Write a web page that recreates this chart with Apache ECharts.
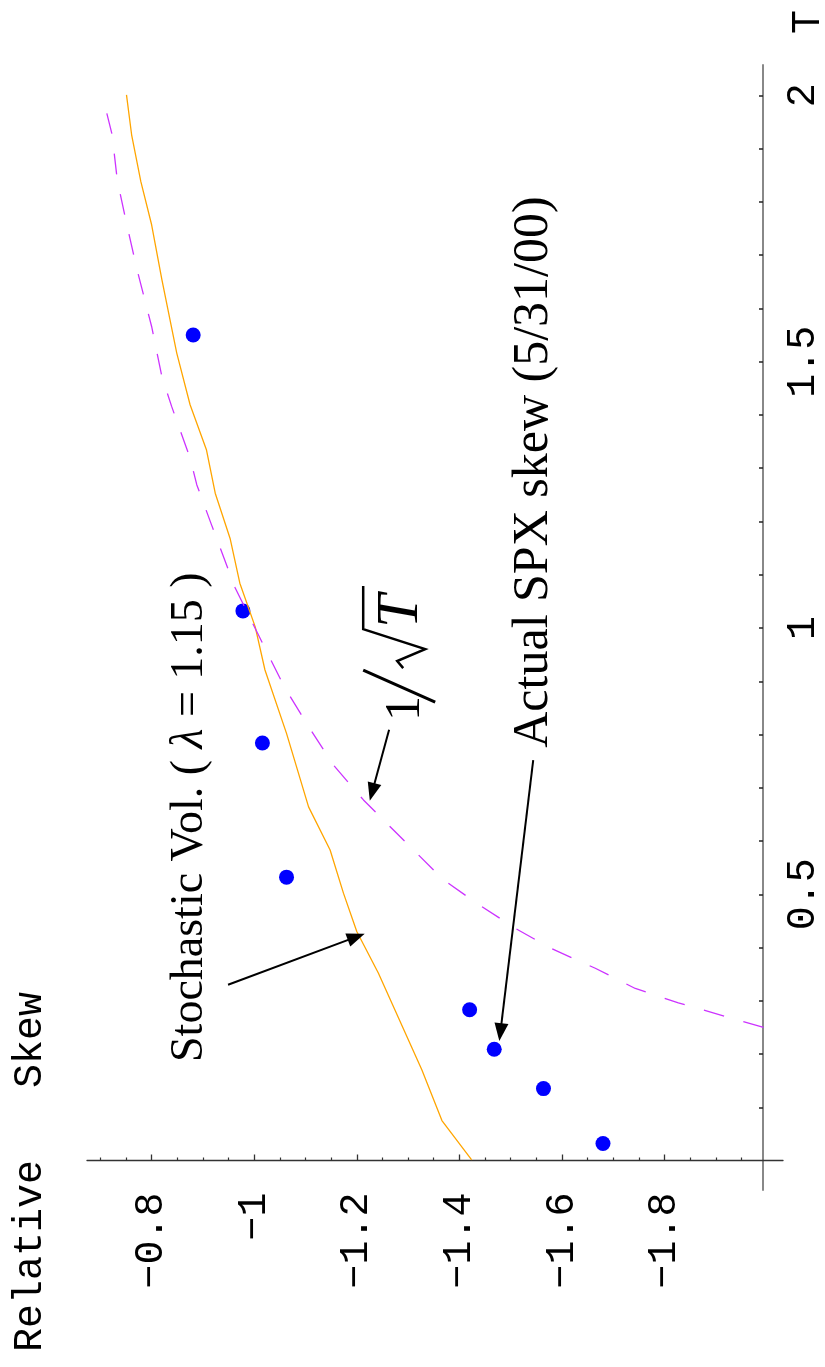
<!DOCTYPE html>
<html>
<head>
<meta charset="utf-8">
<script src="https://cdn.jsdelivr.net/npm/echarts@6/dist/echarts.min.js"></script>
<style>
  html, body { margin: 0; padding: 0; background: #fff; }
  #chart { width: 825px; height: 1367px; }
</style>
</head>
<body>
<div id="chart"></div>
<script>
// actual SPX skew (5/31/00): maturity T and relative skew
var spxT    = [0.032, 0.135, 0.209, 0.283, 0.532, 0.784, 1.032, 1.550];
var spxSkew = [-1.680, -1.564, -1.468, -1.420, -1.063, -1.016, -0.978, -0.881];

// stochastic vol model, lambda = 1.15
var svT    = [0.001, 0.075, 0.170, 0.352, 0.430, 0.502, 0.583, 0.664, 0.802, 0.921, 1.002,
              1.084, 1.168, 1.253, 1.334, 1.419, 1.516, 1.654, 1.757, 1.838, 1.926, 2.001];
var svSkew = [-1.424, -1.366, -1.327, -1.242, -1.200, -1.174, -1.148, -1.106, -1.063, -1.021, -1.002,
              -0.972, -0.953, -0.924, -0.907, -0.875, -0.849, -0.820, -0.800, -0.779, -0.761, -0.751];

// 1/sqrt(T) reference curve
var rootT    = [0.250, 0.296, 0.323, 0.361, 0.399, 0.436, 0.483, 0.527, 0.621, 0.677, 0.743, 0.815, 0.887,
                0.962, 1.075, 1.193, 1.269, 1.319, 1.416, 1.472, 1.566, 1.675, 1.760, 1.841, 1.926, 2.000];
var rootSkew = [-1.993, -1.827, -1.743, -1.665, -1.577, -1.509, -1.434, -1.369, -1.271, -1.213, -1.154, -1.106, -1.060,
                -1.021, -0.963, -0.917, -0.888, -0.875, -0.839, -0.820, -0.800, -0.771, -0.751, -0.733, -0.723, -0.704];

// ticks
var skewTicks  = [-0.8, -1, -1.2, -1.4, -1.6, -1.8];
var skewMinor  = [-0.7, -0.75, -0.85, -0.9, -0.95, -1.05, -1.1, -1.15, -1.25, -1.3, -1.35, -1.45, -1.5,
                  -1.55, -1.65, -1.7, -1.75, -1.85, -1.9, -1.95];
var tTicks     = [0.1, 0.2, 0.3, 0.4, 0.5, 0.6, 0.7, 0.8, 0.9, 1, 1.1, 1.2, 1.3, 1.4, 1.5, 1.6, 1.7, 1.8, 1.9, 2];
var tLabels    = [0.5, 1, 1.5, 2];

// annotations (data coords: [skew, T])
var arrowFrom = [[-0.949, 0.330], [-1.263, 0.809], [-1.544, 0.752]];
var arrowTo   = [[-1.199, 0.420], [-1.230, 0.692], [-1.480, 0.241]];
var svTextAt   = [-0.875, 0.185];
var rootTextAt = [-1.310, 0.842];
var spxTextAt  = [-1.546, 0.775];

function zip(xs, ys) {
  return xs.map(function (x, i) { return [x, ys[i]]; });
}
function fmt(v) {
  return String(Math.round(v * 10) / 10).replace('-', '\u2212');
}

var mono = '"Liberation Mono", "DejaVu Sans Mono", monospace';
var serif = '"Liberation Serif", "DejaVu Serif", serif';

var chart = echarts.init(document.getElementById('chart'));

var option = {
  animation: false,
  backgroundColor: '#fff',
  grid: [
    // plot area, bottom edge = T axis zero (horizontal skew axis)
    { left: 87, right: 42, top: 65, bottom: 206.5, containLabel: false, outerBoundsMode: 'none' },
    // vertical T axis, crossing at skew ~ -1.99
    { left: 87, right: 62, top: 65, bottom: 177, containLabel: false, outerBoundsMode: 'none' }
  ],
  xAxis: [
    {
      gridIndex: 0, type: 'value', inverse: true, min: -2.031, max: -0.674, position: 'bottom',
      splitLine: { show: false },
      axisLine: { onZero: false, lineStyle: { color: '#333', width: 1.3 } },
      axisTick: { inside: true, length: 6, customValues: skewTicks, lineStyle: { color: '#333', width: 1.3 } },
      axisLabel: {
        customValues: skewTicks, rotate: 90, margin: 32, formatter: fmt,
        fontFamily: mono, fontSize: 40, color: '#000'
      }
    },
    {
      gridIndex: 0, type: 'value', inverse: true, min: -2.031, max: -0.674, position: 'bottom',
      splitLine: { show: false },
      axisLine: { show: false, onZero: false },
      axisTick: { inside: true, length: 3, customValues: skewMinor, lineStyle: { color: '#333', width: 1.2 } },
      axisLabel: { show: false }
    },
    {
      gridIndex: 1, type: 'value', inverse: true, min: -1.992, max: -0.674, show: false
    }
  ],
  yAxis: [
    { gridIndex: 0, type: 'value', min: 0, max: 2.057, show: false },
    {
      gridIndex: 1, type: 'value', min: -0.055, max: 2.057, position: 'right',
      splitLine: { show: false },
      axisLine: { show: true, onZero: false, lineStyle: { color: '#888', width: 2 } },
      axisTick: { inside: true, length: 4, customValues: tTicks, lineStyle: { color: '#222', width: 1.5 } },
      axisLabel: {
        customValues: tLabels, rotate: 90, margin: 20, formatter: fmt,
        fontFamily: mono, fontSize: 40, color: '#000'
      }
    }
  ],
  series: [
    {
      name: 'Stochastic Vol.', type: 'line', xAxisIndex: 0, yAxisIndex: 0,
      data: zip(svSkew, svT), symbol: 'none', silent: true,
      lineStyle: { color: '#ffa500', width: 1.3 }
    },
    {
      name: '1/sqrt(T)', type: 'line', xAxisIndex: 0, yAxisIndex: 0,
      data: zip(rootSkew, rootT), symbol: 'none', silent: true,
      lineStyle: { color: '#cc33ff', width: 1.3, type: [21, 20] }
    },
    {
      name: 'Actual SPX skew', type: 'scatter', xAxisIndex: 0, yAxisIndex: 0,
      data: zip(spxSkew, spxT), symbolSize: 15, silent: true,
      itemStyle: { color: '#0000ff', opacity: 1 },
      markLine: {
        silent: true, animation: false,
        symbol: ['none', 'triangle'], symbolSize: [14, 18],
        lineStyle: { color: '#000', width: 2, type: 'solid' },
        label: { show: false },
        data: arrowFrom.map(function (f, i) {
          return [{ coord: f }, { coord: arrowTo[i] }];
        })
      }
    }
  ]
};
chart.setOption(option);

// text annotations placed through the plot's own scales
function px(p) {
  return chart.convertToPixel({ xAxisIndex: 0, yAxisIndex: 0 }, p);
}
var svP = px(svTextAt), rootP = px(rootTextAt), spxP = px(spxTextAt);

chart.setOption({
  graphic: [
    {
      type: 'text', x: svP[0], y: svP[1], rotation: Math.PI / 2,
      style: {
        text: '{a|Stochastic Vol. (}{i| \u03bb}{a| = 1.15 )}',
        align: 'left', verticalAlign: 'middle', fill: '#000',
        rich: {
          a: { fontFamily: serif, fontSize: 46, fill: '#000' },
          i: { fontFamily: serif, fontSize: 46, fontStyle: 'italic', fill: '#000' }
        }
      }
    },
    {
      type: 'text', x: spxP[0], y: spxP[1], rotation: Math.PI / 2,
      style: {
        text: 'Actual SPX skew (5/31/00)',
        font: '50px ' + serif, align: 'left', verticalAlign: 'middle', fill: '#000'
      }
    },
    {
      // 1/sqrt(T), baseline of the "1" at the group origin
      type: 'group', x: rootP[0], y: rootP[1], rotation: Math.PI / 2,
      children: [
        {
          type: 'text', x: -9, y: 18,
          style: { text: '1', font: '50px ' + serif, align: 'left', verticalAlign: 'bottom', fill: '#000' }
        },
        {
          type: 'polyline', shape: { points: [[10, 22], [42, -50]] },
          style: { stroke: '#000', lineWidth: 3, fill: null }
        },
        {
          type: 'polyline', shape: { points: [[44, -10], [51, -16], [63, 12], [83, -50], [126, -50]] },
          style: { stroke: '#000', lineWidth: 2.5, fill: null, lineJoin: 'miter' }
        },
        {
          type: 'text', x: 84, y: 18,
          style: { text: 'T', font: 'italic 60px ' + serif, align: 'left', verticalAlign: 'bottom', fill: '#000' }
        }
      ]
    },
    {
      type: 'text', x: 30, y: 1352, rotation: Math.PI / 2,
      style: {
        text: 'Relative   Skew', font: '40px ' + mono,
        align: 'left', verticalAlign: 'middle', fill: '#000'
      }
    },
    {
      type: 'text', x: 808, y: 22, rotation: Math.PI / 2,
      style: { text: 'T', font: '40px ' + mono, align: 'center', verticalAlign: 'middle', fill: '#000' }
    }
  ]
});
</script>
</body>
</html>
